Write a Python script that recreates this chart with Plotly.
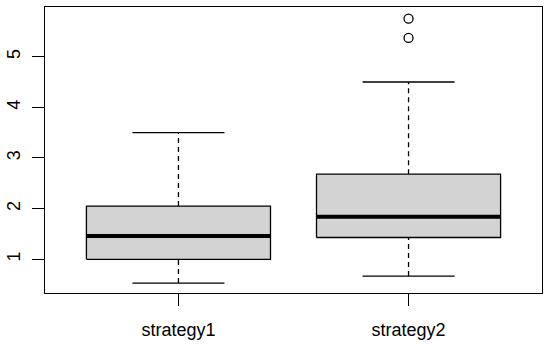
import plotly.graph_objects as go

categories = ["strategy1", "strategy2"]
positions = [1, 2]
lower_whisker = [0.53, 0.67]
q1 = [1.00, 1.43]
median = [1.46, 1.84]
q3 = [2.05, 2.68]
upper_whisker = [3.50, 4.50]
outliers = [[], [5.37, 5.75]]
y_ticks = [1, 2, 3, 4, 5]

HALF = 0.4
CAP = 0.2
FONT = "Liberation Sans, Arial, Helvetica, sans-serif"

fig = go.Figure()
for i, p in enumerate(positions):
    # whiskers (dashed)
    fig.add_trace(go.Scatter(x=[p, p, None, p, p],
                             y=[q3[i], upper_whisker[i], None, lower_whisker[i], q1[i]],
                             mode="lines", line=dict(color="black", width=1.3, dash="5px,4px"),
                             hoverinfo="skip", showlegend=False))
    # caps
    fig.add_trace(go.Scatter(x=[p - CAP, p + CAP, None, p - CAP, p + CAP],
                             y=[upper_whisker[i], upper_whisker[i], None, lower_whisker[i], lower_whisker[i]],
                             mode="lines", line=dict(color="black", width=1.3),
                             hoverinfo="skip", showlegend=False))
    # box
    fig.add_trace(go.Scatter(x=[p - HALF, p + HALF, p + HALF, p - HALF, p - HALF],
                             y=[q1[i], q1[i], q3[i], q3[i], q1[i]],
                             mode="lines", fill="toself", fillcolor="#D3D3D3",
                             line=dict(color="black", width=1.3),
                             hoverinfo="skip", showlegend=False))
    # median
    fig.add_trace(go.Scatter(x=[p - HALF, p + HALF], y=[median[i], median[i]],
                             mode="lines", line=dict(color="black", width=4),
                             hoverinfo="skip", showlegend=False))
    # outliers
    if outliers[i]:
        fig.add_trace(go.Scatter(x=[p] * len(outliers[i]), y=outliers[i], mode="markers",
                                 marker=dict(symbol="circle-open", size=9, color="black",
                                             line=dict(width=1.3, color="black")),
                                 hoverinfo="skip", showlegend=False))

fig.update_layout(
    width=550, height=344,
    margin=dict(l=45, r=8, t=7, b=51, autoexpand=False),
    paper_bgcolor="white", plot_bgcolor="white",
    font=dict(family=FONT, size=18, color="black"),
    xaxis=dict(range=[0.42, 2.58], tickmode="array", tickvals=positions, ticktext=categories,
               automargin=False,
               showgrid=False, zeroline=False, showline=True, mirror=True, linecolor="black",
               linewidth=1.3, ticks="outside", ticklen=12, tickwidth=1.3, tickcolor="black",
               ticklabelstandoff=8),
    yaxis=dict(range=[0.335, 5.98], tickmode="array", tickvals=y_ticks,
               ticktext=[str(v) for v in y_ticks], tickangle=-90, automargin=False,
               showgrid=False, zeroline=False, showline=True, mirror=True, linecolor="black",
               linewidth=1.3, ticks="outside", ticklen=12, tickwidth=1.3, tickcolor="black",
               ticklabelstandoff=5),
)

fig.write_html("out.html", config={"displayModeBar": False},
               post_script="document.body.style.margin='0';document.body.style.overflow='hidden';")
